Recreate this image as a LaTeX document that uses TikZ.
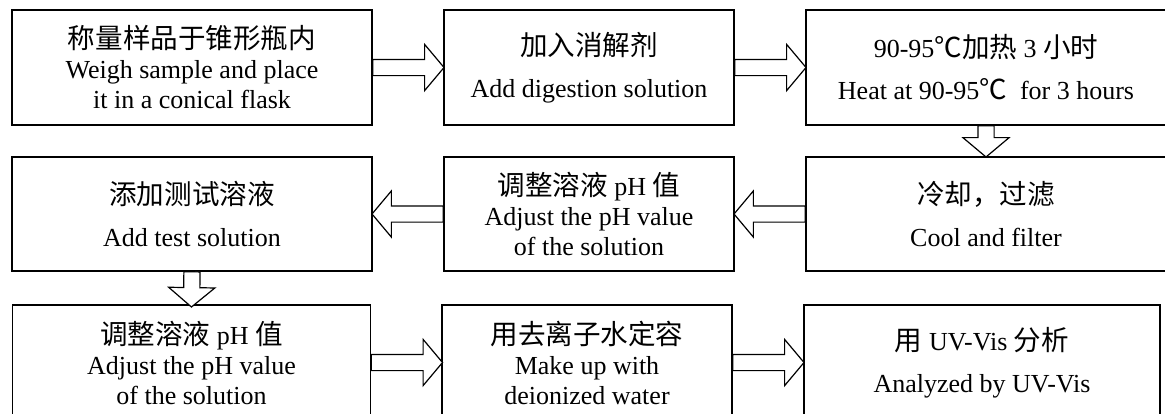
\documentclass[tikz,border=0pt]{standalone}
\usepackage{fontspec}
\setmainfont{Liberation Serif}
\newfontfamily\cjk[Scale=1.06]{Noto Sans CJK SC}
\usetikzlibrary{shapes.arrows}

\begin{document}
\begin{tikzpicture}[x=0.5pt, y=-0.5pt,
    stepbox/.style={draw, line width=0.8pt, align=center, inner sep=0pt,
      font=\fontsize{13}{15}\selectfont},
    flowarrow/.style={single arrow, draw, fill=white, line width=0.6pt,
      inner xsep=0pt, inner ysep=3.75pt, outer sep=0pt, single arrow head extend=7.5pt,
      single arrow tip angle=100, sloped, allow upside down, at start, anchor=tail}]
    %\draw[lightgray] (0, 0) grid (1165, 413);
    \useasboundingbox (0, 0) rectangle (1165, 413);
    \clip (0, 0) rectangle (1165, 413);
    % first row
    \node[stepbox, minimum width=180pt, minimum height=57.5pt] (weigh) at (192, 67.5)
        {{\cjk 称量样品于锥形瓶内}\\Weigh sample and place\\it in a conical flask};
    \node[stepbox, minimum width=145pt, minimum height=57.5pt] (digest) at (589, 67.5)
        {{\cjk 加入消解剂}\\[6pt]Add digestion solution};
    \node[stepbox, minimum width=180pt, minimum height=57.5pt] (heat) at (986, 67.5)
        {90-95{\cjk ℃加热} 3 {\cjk 小时}\\[6pt]Heat at 90-95{\cjk ℃}\ \ for 3 hours};
    % second row
    \node[stepbox, minimum width=180pt, minimum height=57pt] (test) at (192, 214)
        {{\cjk 添加测试溶液}\\[6pt]Add test solution};
    \node[stepbox, minimum width=145pt, minimum height=57pt] (adjust) at (589, 214)
        {{\cjk 调整溶液} pH {\cjk 值}\\Adjust the pH value\\of the solution};
    \node[stepbox, minimum width=180pt, minimum height=57pt] (cool) at (986, 214)
        {{\cjk 冷却，过滤}\\[6pt]Cool and filter};
    % third row
    \node[stepbox, minimum width=179pt, minimum height=57.5pt] (readjust) at (191.5, 362.5)
        {{\cjk 调整溶液} pH {\cjk 值}\\Adjust the pH value\\of the solution};
    \node[stepbox, minimum width=145pt, minimum height=57.5pt] (dilute) at (587, 362.5)
        {{\cjk 用去离子水定容}\\Make up with\\deionized water};
    \node[stepbox, minimum width=178pt, minimum height=57.5pt] (analyse) at (982, 362.5)
        {{\cjk 用} UV-Vis {\cjk 分析}\\[6pt]Analyzed by UV-Vis};
    % arrows
    \path (weigh.east) -- (digest.west) node[flowarrow, minimum height=35.6pt] {};
    \path (digest.east) -- (heat.west) node[flowarrow, minimum height=35.6pt] {};
    \path (heat.south) -- (cool.north) node[flowarrow, minimum height=15.6pt] {};
    \path (cool.west) -- (adjust.east) node[flowarrow, minimum height=35.6pt] {};
    \path (adjust.west) -- (test.east) node[flowarrow, minimum height=35.6pt] {};
    \path (test.south) -- (readjust.north) node[flowarrow, minimum height=17.6pt] {};
    \path (readjust.east) -- (dilute.west) node[flowarrow, minimum height=35.6pt] {};
    \path (dilute.east) -- (analyse.west) node[flowarrow, minimum height=35.6pt] {};
\end{tikzpicture}
\end{document}
